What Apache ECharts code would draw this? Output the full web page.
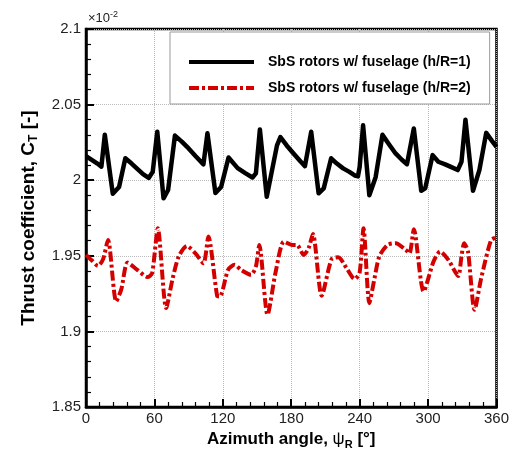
<!DOCTYPE html>
<html>
<head>
<meta charset="utf-8">
<script src="https://cdn.jsdelivr.net/npm/echarts@6/dist/echarts.min.js"></script>
<style>html,body{margin:0;padding:0;background:#fff}#c{width:512px;height:459px}</style>
</head>
<body>
<div id="c"></div>
<script>
var seriesNames = ['SbS rotors w/ fuselage (h/R=1)', 'SbS rotors w/ fuselage (h/R=2)'];
var xTicks = [0, 60, 120, 180, 240, 300, 360];
var yTicks = [1.85, 1.9, 1.95, 2, 2.05, 2.1];

var hR1 = [[0,2.016],[5,2.0135],[10,2.011],[13.5,2.009],[16.5,2.030],[23.5,1.991],[29,1.9955],[34.5,2.0145],[40,2.011],[45,2.0075],[50,2.004],[55,2.0015],[58.5,2.0055],[62.5,2.032],[68,1.988],[72,1.9935],[78,2.0295],[84,2.0255],[90,2.021],[96,2.016],[103,2.0105],[106.5,2.031],[113.5,1.9915],[118.5,1.9955],[125,2.015],[133,2.008],[140,2.0045],[146,2.0018],[149,2.0045],[152.5,2.0335],[158.5,1.989],[167.5,2.023],[170.5,2.0285],[176,2.023],[182,2.0177],[188,2.0125],[192,2.0093],[197.5,2.032],[204,1.9913],[208.5,1.9946],[215,2.0145],[220,2.011],[225.5,2.0078],[231,2.0055],[236,2.003],[238.5,2.0025],[240,2.0088],[243,2.0363],[248.5,1.990],[254,2.002],[260,2.030],[266,2.0235],[271.5,2.0177],[277,2.0135],[281.5,2.0106],[287.5,2.0342],[294,1.993],[297.5,1.9946],[304,2.0166],[309,2.0122],[315,2.0105],[320,2.0088],[326,2.0067],[329.3,2.0122],[332.8,2.040],[339.4,1.993],[345,2.0067],[351,2.0313],[356,2.026],[360,2.022]];

var hR2 = [[0,1.9506],[5,1.947],[10.5,1.9433],[15,1.9478],[19.3,1.9605],[26.5,1.9198],[31,1.928],[36.5,1.9455],[45,1.9407],[54,1.9359],[58,1.9385],[63,1.9682],[70.3,1.9154],[76,1.935],[81.3,1.9495],[88.5,1.9565],[95.8,1.9517],[103,1.9451],[107.3,1.9627],[115,1.9235],[117.4,1.923],[124.6,1.9407],[130.4,1.944],[136,1.9407],[144.7,1.9374],[149,1.9429],[152,1.9572],[159.2,1.911],[166.4,1.9396],[173.6,1.9594],[180.8,1.9572],[185,1.9572],[190.9,1.9506],[195.2,1.955],[199,1.9644],[206.7,1.9236],[215.4,1.9478],[221.2,1.9491],[228.4,1.942],[235.6,1.9346],[239.9,1.9385],[243.4,1.9682],[248.5,1.9187],[253,1.935],[257.2,1.9495],[264.4,1.9572],[271.6,1.9583],[280.3,1.954],[283.7,1.9517],[287.5,1.9675],[296.1,1.9264],[304.8,1.9462],[310.6,1.9528],[317.8,1.9473],[326.4,1.9367],[329.3,1.9495],[331.6,1.9583],[335,1.9528],[340.8,1.9143],[346.6,1.9352],[355.3,1.9605],[360,1.962]];

var FONT = '"Liberation Sans", Arial, sans-serif';
var chart = echarts.init(document.getElementById('c'), null, {renderer: 'canvas'});
chart.setOption({
  animation: false,
  backgroundColor: '#fff',
  grid: {left: 86, right: 11, top: 29, bottom: 52, show: true, borderColor: '#000', borderWidth: 2.5, backgroundColor: 'transparent'},
  legend: {
    orient: 'vertical', left: 170, top: 32,
    padding: [23, 19, 9, 17],
    backgroundColor: '#fff', borderColor: '#999', borderWidth: 1,
    itemWidth: 65, itemHeight: 16, itemGap: 12,
    itemStyle: {opacity: 0, borderWidth: 0},
    lineStyle: {width: 4},
    textStyle: {fontFamily: FONT, fontSize: 14, fontWeight: 'bold', color: '#000', padding: [0, 0, 0, 9]},
    data: seriesNames
  },
  graphic: [{
    type: 'text', left: 88, top: 10,
    style: {
      text: '{a|×10}{b|-2}',
      rich: {a: {fontFamily: FONT, fontSize: 13, fill: '#222'}, b: {fontFamily: FONT, fontSize: 9, fill: '#222', padding: [0, 0, 8, 0]}}
    }
  }],
  xAxis: {
    type: 'value', min: 0, max: 360, interval: 60,
    name: '{b|Azimuth angle, }{p|ψ}{s|R}{b| [°]}',
    nameLocation: 'middle', nameGap: 22,
    nameTextStyle: {
      rich: {
        b: {fontFamily: FONT, fontSize: 17, fontWeight: 'bold', color: '#000'},
        p: {fontFamily: FONT, fontSize: 17, color: '#000'},
        s: {fontFamily: FONT, fontSize: 11, fontWeight: 'bold', color: '#000', padding: [10, 0, 0, 0]}
      }
    },
    axisLine: {show: true, lineStyle: {color: '#000', width: 2.5}},
    axisTick: {show: true, inside: true, length: 8, lineStyle: {color: '#000', width: 2}},
    minorTick: {show: true, splitNumber: 5, length: 5, lineStyle: {color: '#000', width: 1.2}},
    splitLine: {show: true, lineStyle: {color: '#bbb', type: 'dotted', width: 1}},
    axisLabel: {fontFamily: FONT, fontSize: 15, color: '#222', margin: 4,
      formatter: function (v) { return xTicks.indexOf(v) >= 0 ? String(v) : ''; }}
  },
  yAxis: {
    type: 'value', min: 1.85, max: 2.1, interval: 0.05,
    name: '{b|Thrust coefficient, C}{s|T}{b| [-]}',
    nameLocation: 'middle', nameGap: 46,
    nameTextStyle: {
      rich: {
        b: {fontFamily: FONT, fontSize: 19, fontWeight: 'bold', color: '#000'},
        s: {fontFamily: FONT, fontSize: 12, fontWeight: 'bold', color: '#000', padding: [11, 0, 0, 0]}
      }
    },
    axisLine: {show: true, lineStyle: {color: '#000', width: 2.5}},
    axisTick: {show: true, inside: true, length: 8, lineStyle: {color: '#000', width: 2}},
    minorTick: {show: true, splitNumber: 5, length: 5, lineStyle: {color: '#000', width: 1.2}},
    splitLine: {show: true, lineStyle: {color: '#bbb', type: 'dotted', width: 1}},
    axisLabel: {fontFamily: FONT, fontSize: 15, color: '#222', margin: 5,
      formatter: function (v) { return String(parseFloat(v.toFixed(3))); }}
  },
  series: [
    {name: seriesNames[0], type: 'line', data: hR1, symbol: 'none', showSymbol: false,
      lineStyle: {color: '#000', width: 4.5, join: 'round'}, itemStyle: {color: '#000'}, z: 3},
    {name: seriesNames[1], type: 'line', data: hR2, symbol: 'none', showSymbol: false, smooth: 0.25,
      lineStyle: {color: '#d40000', width: 4, type: [10, 3, 3, 3]}, itemStyle: {color: '#d40000'}, z: 2}
  ]
});
</script>
</body>
</html>
